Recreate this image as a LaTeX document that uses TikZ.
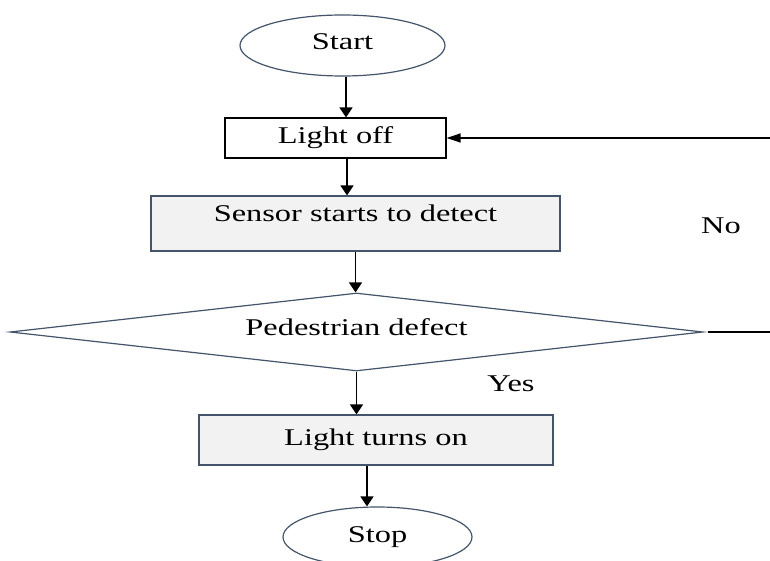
\documentclass[tikz,border=0pt]{standalone}
\usepackage{fontspec}
\setmainfont{Liberation Serif}[FakeStretch=1.35]
\usetikzlibrary{shapes.geometric,arrows.meta}
\definecolor{edgeblue}{RGB}{68,84,106}
\definecolor{boxgray}{RGB}{242,242,242}

\begin{document}
\begin{tikzpicture}[x=1pt,y=-1pt,>={Triangle[length=10pt,width=13pt]},line width=1.2pt,
  every node/.style={font=\fontsize{24}{28}\selectfont},
  term/.style={ellipse,draw=edgeblue,fill=white,inner sep=0pt},
  block/.style={rectangle,draw=edgeblue,fill=boxgray,inner sep=0pt},
  test/.style={diamond,draw=edgeblue,fill=white,aspect=9,inner sep=0pt}]

          \useasboundingbox (0,0) rectangle (770,561);
          \clip (0,0) rectangle (770,561);

          \node[term, minimum width=205pt, minimum height=61pt, text height=16pt, text depth=8pt] (start) at (342.5,45.5) {Start};
          \node[block, draw=black, fill=white, minimum width=221pt, minimum height=40pt] (off) at (335.5,138) {Light off};
          \node[block, minimum width=409pt, minimum height=55pt, text height=16pt, text depth=19pt] (sensor) at (355.5,223.5) {Sensor starts to detect};
          \node[test, minimum width=693pt, minimum height=78pt, text height=16pt, text depth=10pt] (dec) at (356.5,332) {Pedestrian defect};
          \node[block, minimum width=354pt, minimum height=50pt] (on) at (376,440) {Light turns on};
          \node[term, minimum width=189pt, minimum height=60pt] (stop) at (377.5,537) {Stop};

          \node (no) at (721,226) {No};
          \node (yes) at (511,384) {Yes};

          \coordinate (back) at (800,332);

          \path[->, line width=1.5pt]
          ([xshift=3.5pt]start.south) edge ([xshift=3.5pt]start.south |- off.north)
          ([xshift=11.5pt]off.south) edge ([xshift=11.5pt]off.south |- sensor.north)
          (sensor.south) edge (sensor.south |- dec.north)
          (dec.south) edge (dec.south |- on.north)
          ([xshift=-9pt]on.south) edge ([xshift=-9pt]on.south |- stop.north)
          ;

          \draw[-{Triangle[length=14pt,width=9pt]}, line width=1.5pt, shorten <=4pt] (dec.east) -- (back) |- (off.east);
        \end{tikzpicture}
\end{document}
